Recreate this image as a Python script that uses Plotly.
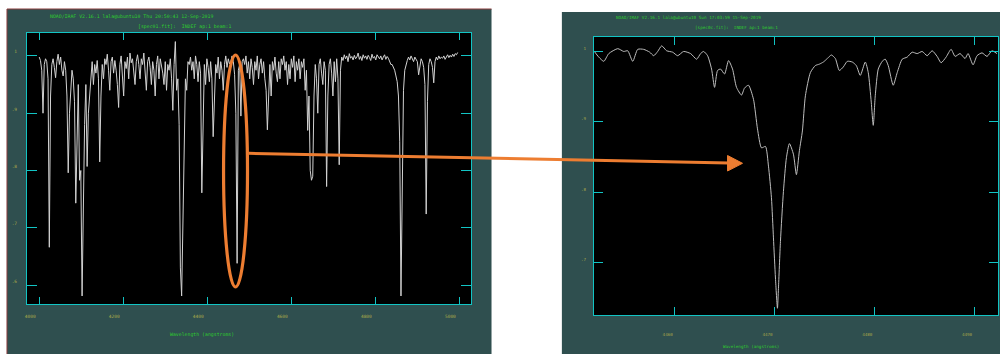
import numpy as np
import plotly.graph_objects as go

# ---------------- data ----------------
# Left panel: spec01.fit, linear dispersion starting 4000 A, 3 A per pixel
LEFT_START = 4000.0
LEFT_STEP = 3.0
LEFT_FLUX = [
    0.998, 0.992, 0.975, 0.900, 0.985, 0.995, 0.990, 0.960, 0.666, 0.930,
    0.985, 0.995, 0.980, 0.962, 0.990, 1.003, 0.985, 0.998, 0.975, 0.965,
    0.990, 0.975, 0.930, 0.796, 0.900, 0.940, 0.975, 0.960, 0.920, 0.743,
    0.880, 0.950, 0.783, 0.800, 0.581, 0.752, 0.880, 0.950, 0.807, 0.900,
    0.930, 0.975, 0.990, 0.950, 0.985, 0.970, 0.992, 0.960, 0.815, 0.930,
    0.985, 0.960, 0.995, 0.985, 1.003, 0.975, 0.940, 0.990, 0.998, 0.970,
    0.992, 0.975, 0.950, 0.910, 0.985, 1.000, 0.960, 0.930, 0.990, 0.978,
    0.998, 0.960, 1.005, 0.988, 0.995, 0.970, 0.950, 0.990, 1.002, 0.985,
    0.960, 0.995, 0.985, 1.005, 0.975, 0.940, 0.990, 0.998, 0.980, 0.950,
    0.990, 0.975, 0.930, 0.985, 1.000, 0.960, 0.995, 0.985, 0.970, 0.950,
    0.990, 0.940, 0.985, 0.975, 0.995, 0.960, 0.905, 0.985, 1.025, 0.940,
    0.960, 0.880, 0.630, 0.581, 0.700, 0.850, 0.960, 0.940, 0.990, 0.985,
    0.998, 0.975, 0.990, 0.960, 1.000, 0.985, 0.955, 0.990, 0.970, 0.761,
    0.920, 0.985, 0.950, 0.995, 0.980, 0.955, 0.990, 0.960, 0.859, 0.930,
    0.985, 0.970, 0.998, 0.960, 0.990, 0.975, 0.940, 0.985, 1.000, 0.980,
    0.995, 0.986, 0.990, 1.000, 0.990, 0.968, 0.900, 0.638, 0.975, 0.985,
    0.895, 0.990, 0.995, 0.985, 1.000, 0.970, 0.990, 0.960, 0.995, 0.980,
    0.950, 0.990, 0.975, 1.000, 0.960, 0.985, 0.995, 0.970, 0.990, 0.960,
    0.940, 0.871, 0.950, 0.985, 0.930, 0.990, 0.975, 0.998, 0.970, 0.955,
    0.990, 0.960, 0.995, 0.985, 1.000, 0.975, 0.990, 0.950, 0.985, 0.960,
    0.995, 0.980, 1.000, 0.955, 0.990, 0.975, 0.995, 0.960, 0.990, 0.980,
    0.995, 0.940, 0.975, 0.870, 0.930, 0.800, 0.783, 0.790, 0.930, 0.985,
    0.960, 0.900, 0.985, 0.995, 0.970, 0.950, 0.990, 0.975, 0.772, 0.930,
    0.985, 0.995, 0.970, 0.930, 0.990, 0.955, 0.995, 0.960, 0.810, 0.975,
    0.998, 0.992, 1.002, 0.995, 1.000, 0.990, 1.004, 0.996, 0.999, 0.993,
    1.001, 0.995, 0.998, 1.005, 0.994, 0.999, 0.992, 1.002, 0.996, 1.000,
    0.994, 1.001, 0.997, 0.992, 1.003, 0.996, 0.999, 0.993, 1.002, 0.997,
    0.995, 1.000, 0.993, 0.998, 1.002, 0.994, 0.999, 0.996, 0.990, 0.985,
    0.985, 0.980, 0.975, 0.965, 0.955, 0.930, 0.850, 0.581, 0.800, 0.940,
    0.975, 0.985, 0.992, 0.998, 0.993, 1.000, 0.996, 0.990, 0.998, 0.993,
    0.990, 0.967, 0.985, 0.995, 0.990, 0.980, 0.950, 0.724, 0.920, 0.985,
    0.995, 0.990, 0.980, 0.953, 0.990, 0.998, 0.993, 1.000, 0.995, 0.998,
    0.996, 1.000, 0.994, 0.999, 1.002, 0.997, 1.001, 0.998, 1.003, 0.999,
    1.004, 1.002, 1.006,
]
LEFT_WAVE = LEFT_START + LEFT_STEP * np.arange(len(LEFT_FLUX))

# Right panel: spec0c.fit zoom around He I 4471
RIGHT_WAVE = [
    4451.9, 4452.4, 4452.9, 4453.4, 4454.3, 4454.9, 4455.3, 4455.8, 4456.3, 4456.9,
    4457.5, 4457.9, 4458.3, 4458.7, 4459.2, 4459.8, 4460.3, 4460.9, 4461.6, 4462.2,
    4462.6, 4462.9, 4463.3, 4463.7, 4464.0, 4464.3, 4464.6, 4465.0, 4465.4, 4465.8,
    4466.2, 4466.7, 4467.0, 4467.4, 4467.9, 4468.3, 4468.7, 4469.1, 4469.4, 4469.7,
    4469.9, 4470.1, 4470.3, 4470.4, 4470.6, 4470.9, 4471.2, 4471.5, 4471.9, 4472.2,
    4472.5, 4472.8, 4473.1, 4473.6, 4474.1, 4474.5, 4474.9, 4475.3, 4475.7, 4476.1,
    4476.5, 4476.9, 4477.3, 4477.8, 4478.2, 4478.6, 4479.1, 4479.4, 4479.7, 4479.9,
    4480.1, 4480.4, 4480.8, 4481.1, 4481.4, 4481.9, 4482.3, 4482.8, 4483.3, 4483.8,
    4484.3, 4484.8, 4485.3, 4485.8, 4486.3, 4486.7, 4487.2, 4487.7, 4488.1, 4488.6,
    4489.1, 4489.4, 4489.9, 4490.3, 4490.8, 4491.3, 4491.8, 4492.3,
]
RIGHT_FLUX = [
    1.001, 0.992, 0.986, 0.997, 1.004, 1.000, 1.001, 0.986, 1.003, 1.003,
    0.999, 0.994, 1.000, 1.008, 1.001, 0.999, 0.994, 1.000, 0.997, 0.989,
    0.997, 1.000, 0.994, 0.975, 0.949, 0.973, 0.975, 0.968, 0.987, 0.975,
    0.949, 0.938, 0.948, 0.952, 0.932, 0.890, 0.863, 0.865, 0.837, 0.792,
    0.735, 0.678, 0.635, 0.663, 0.730, 0.801, 0.849, 0.869, 0.854, 0.825,
    0.859, 0.887, 0.937, 0.970, 0.980, 0.982, 0.985, 0.990, 0.995, 0.990,
    0.973, 0.978, 0.986, 0.985, 0.980, 0.966, 0.985, 0.970, 0.928, 0.895,
    0.937, 0.975, 0.986, 0.989, 0.980, 0.952, 0.970, 0.989, 0.992, 0.999,
    0.997, 1.000, 0.994, 1.001, 0.993, 0.984, 0.992, 1.003, 0.993, 0.997,
    0.990, 0.997, 0.981, 0.994, 0.998, 0.993, 1.001, 0.997,
]

LEFT_XTICKS = [4000, 4200, 4400, 4600, 4800, 5000]
LEFT_YTICKS = [0.6, 0.7, 0.8, 0.9, 1.0]
LEFT_YTEXT = [".6", ".7", ".8", ".9", "1"]
RIGHT_XTICKS = [4460, 4470, 4480, 4490]
RIGHT_YTICKS = [0.7, 0.8, 0.9, 1.0]
RIGHT_YTEXT = [".7", ".8", ".9", "1"]

LEFT_HEADER = ["NOAO/IRAF V2.16.1 lala@ubuntu10 Thu 20:50:43 12-Sep-2019",
               "[spec01.fit]:  INDEF ap:1 beam:1"]
RIGHT_HEADER = ["NOAO/IRAF V2.16.1 lala@ubuntu10 Sun 17:03:59 15-Sep-2019",
                "[spec0c.fit]:  INDEF ap:1 beam:1"]
XTITLE = "Wavelength (angstroms)"

# ---------------- styling ----------------
W, H = 1000, 354
BG = "#2f4f4f"
CYAN = "#12c4c4"
LABEL = "#a8a84a"
GREEN = "#2ecc2e"
ORANGE = "#ED7D31"
MONO = "DejaVu Sans Mono"


def px(x):
    return x / W


def py(y):
    return 1 - y / H


fig = go.Figure()
fig.add_trace(go.Scatter(x=LEFT_WAVE, y=LEFT_FLUX, mode="lines",
                         line=dict(color="#d2d2d2", width=1),
                         xaxis="x", yaxis="y", showlegend=False, hoverinfo="skip"))
fig.add_trace(go.Scatter(x=RIGHT_WAVE, y=RIGHT_FLUX, mode="lines",
                         line=dict(color="#bdbdbd", width=1, shape="spline", smoothing=0.6),
                         xaxis="x2", yaxis="y2", showlegend=False, hoverinfo="skip"))

axis_common = dict(showline=True, linecolor=CYAN, linewidth=1, mirror="ticks",
                   ticks="inside", tickcolor=CYAN, showgrid=False, zeroline=False,
                   tickwidth=1)

fig.update_layout(
    width=W, height=H, margin=dict(l=0, r=0, t=0, b=0),
    paper_bgcolor="white", plot_bgcolor="black",
    xaxis=dict(domain=[px(25), px(470)], range=[3970.8, 5027.8], anchor="y",
               tickvals=LEFT_XTICKS, ticklen=7, ticklabelshift=-9, ticklabelstandoff=8,
               tickfont=dict(family=MONO, size=4.5, color=LABEL), **axis_common),
    yaxis=dict(domain=[py(304), py(33)], range=[0.567, 1.040], anchor="x",
               tickvals=LEFT_YTICKS, ticktext=LEFT_YTEXT, ticklen=10,
               ticklabelshift=-4, ticklabelstandoff=8,
               tickfont=dict(family=MONO, size=4.5, color=LABEL), **axis_common),
    xaxis2=dict(domain=[px(593), px(998)], range=[4451.9, 4492.4], anchor="y2",
                tickvals=RIGHT_XTICKS, ticklen=8, ticklabelshift=-7, ticklabelstandoff=15,
                tickfont=dict(family=MONO, size=4.2, color=LABEL), **axis_common),
    yaxis2=dict(domain=[py(315), py(36.7)], range=[0.6254, 1.021], anchor="x2",
                tickvals=RIGHT_YTICKS, ticktext=RIGHT_YTEXT, ticklen=9,
                ticklabelshift=-3, ticklabelstandoff=6,
                tickfont=dict(family=MONO, size=4.2, color=LABEL), **axis_common),
)

shapes = [
    dict(type="rect", xref="paper", yref="paper", x0=px(5), x1=px(490.5), y0=0, y1=py(9),
         fillcolor=BG, line=dict(width=0), layer="below"),
    dict(type="rect", xref="paper", yref="paper", x0=px(561), x1=1, y0=0, y1=py(12),
         fillcolor=BG, line=dict(width=0), layer="below"),
    dict(type="line", xref="paper", yref="paper", x0=px(5), x1=px(490.5), y0=py(9), y1=py(9),
         line=dict(color="#8a3c3c", width=1), layer="below"),
    dict(type="line", xref="paper", yref="paper", x0=px(5), x1=px(5), y0=0, y1=py(9),
         line=dict(color="#8a3c3c", width=1), layer="below"),
    # black plotting areas
    dict(type="rect", xref="paper", yref="paper", x0=px(25), x1=px(470), y0=py(304), y1=py(33),
         fillcolor="black", line=dict(width=0), layer="below"),
    dict(type="rect", xref="paper", yref="paper", x0=px(593), x1=px(998), y0=py(315), y1=py(36.7),
         fillcolor="black", line=dict(width=0), layer="below"),
    # orange highlight ellipse
    dict(type="circle", xref="paper", yref="paper", x0=px(222), x1=px(246), y0=py(287), y1=py(55),
         line=dict(color=ORANGE, width=3.2), layer="above"),
    # arrow shaft
    dict(type="line", xref="paper", yref="paper", x0=px(247), y0=py(153.3), x1=px(728), y1=py(163),
         line=dict(color=ORANGE, width=3), layer="above"),
    # arrow head
    dict(type="path", xref="paper", yref="paper",
         path=f"M {px(727)},{py(155.5)} L {px(742)},{py(163.3)} L {px(727)},{py(171)} Z",
         fillcolor=ORANGE, line=dict(color=ORANGE, width=1), layer="above"),
]
fig.update_layout(shapes=shapes)

ann = []


def text(x, y, s, size, color, anchor="left"):
    ann.append(dict(xref="paper", yref="paper", x=px(x), y=py(y), text=s, showarrow=False,
                    xanchor=anchor, yanchor="middle",
                    font=dict(family=MONO, size=size, color=color)))


text(46, 16, LEFT_HEADER[0], 4.85, GREEN)
text(134, 26, LEFT_HEADER[1], 4.85, GREEN)
text(613, 17.3, RIGHT_HEADER[0], 4.3, GREEN)
text(692, 27, RIGHT_HEADER[1], 4.3, GREEN)
text(200, 334, XTITLE, 4.85, GREEN, "center")
text(751, 346, XTITLE, 4.25, GREEN, "center")
fig.update_layout(annotations=ann)

fig.write_html("out.html")
